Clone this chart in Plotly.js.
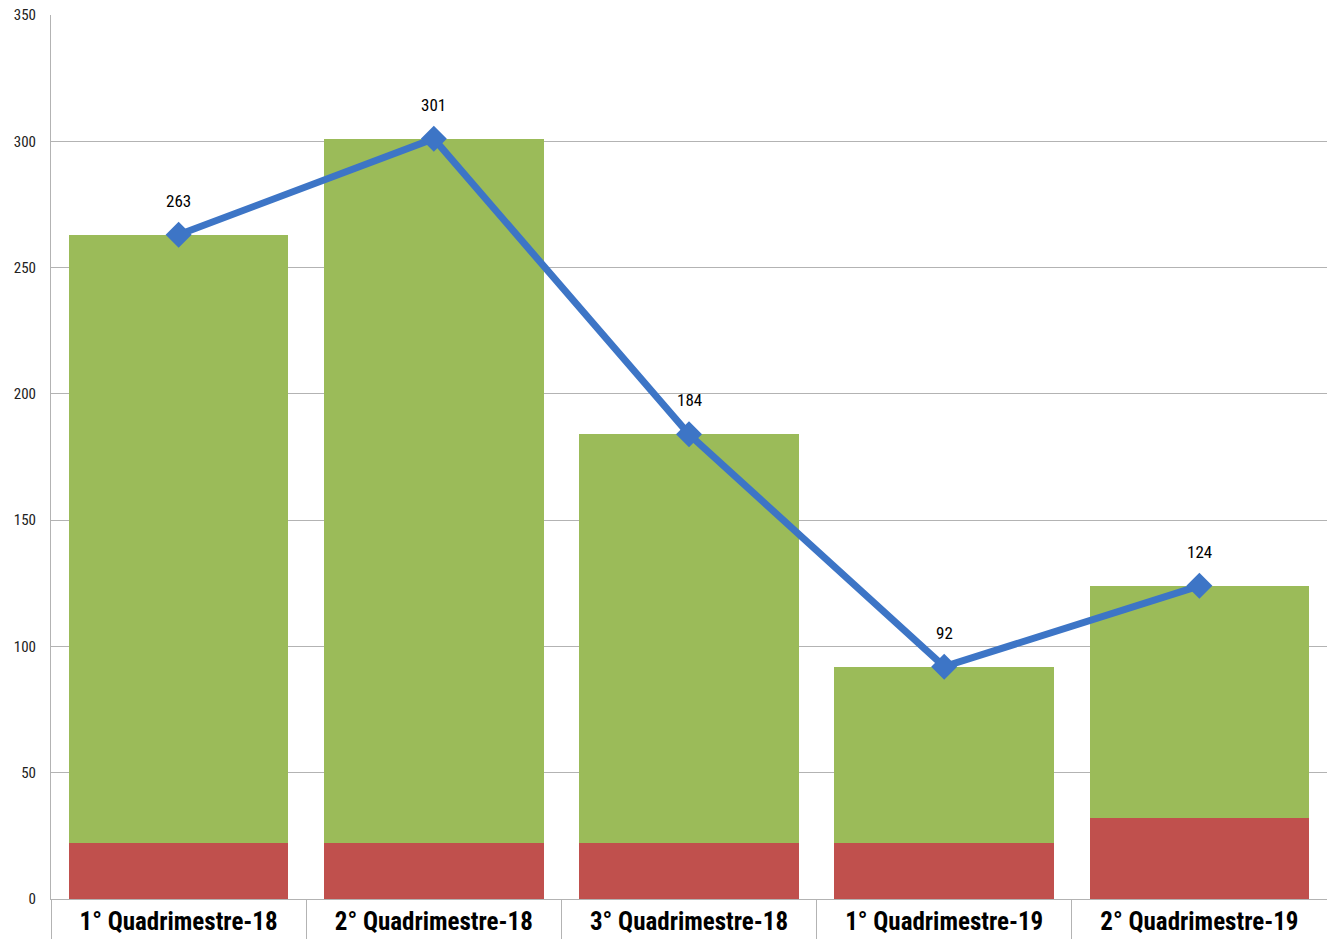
<!DOCTYPE html>
<html>
<head>
<meta charset="utf-8">
<script src="https://cdn.plot.ly/plotly-3.0.1.min.js"></script>
<style>html,body{margin:0;padding:0;background:#fff;}#chart{width:1327px;height:939px;}</style>
</head>
<body>
<div id="chart"></div>
<script>
const categories = ["1° Quadrimestre-18", "2° Quadrimestre-18", "3° Quadrimestre-18", "1° Quadrimestre-19", "2° Quadrimestre-19"];
const totals = [263, 301, 184, 92, 124];
const redValues = [22, 22, 22, 22, 32];
const greenValues = totals.map((t, i) => t - redValues[i]);
const yTicks = [0, 50, 100, 150, 200, 250, 300, 350];

const narrow = "Roboto Condensed, Carlito, sans-serif";

const traces = [
  {type: "bar", x: categories, y: redValues, marker: {color: "#C0504D"}, hoverinfo: "skip", showlegend: false},
  {type: "bar", x: categories, y: greenValues, marker: {color: "#9BBB59"}, hoverinfo: "skip", showlegend: false},
  {type: "scatter", mode: "lines+markers", x: categories, y: totals,
   line: {color: "#3D75C6", width: 7},
   marker: {symbol: "diamond", size: 20, color: "#3D75C6"},
   showlegend: false, hoverinfo: "skip", cliponaxis: false},
  {type: "scatter", mode: "markers", x: categories, y: totals, xaxis: "x2",
   marker: {opacity: 0}, showlegend: false, hoverinfo: "skip"}
];

const annotations = categories.map((c, i) => ({
  x: c, y: totals[i], text: String(totals[i]), showarrow: false,
  yshift: 34, font: {family: narrow, size: 17, color: "#000"}
}));

const layout = {
  width: 1327, height: 939,
  margin: {l: 51, r: 0, t: 15, b: 40},
  paper_bgcolor: "#fff", plot_bgcolor: "#fff",
  barmode: "stack", bargap: 0.14,
  showlegend: false,
  annotations: annotations,
  xaxis: {
    type: "category", tickangle: 0,
    ticks: "", showline: true, linecolor: "#b3b3b3", linewidth: 1,
    tickfont: {family: narrow, size: 25, color: "#000", weight: "bold"},
    showgrid: false, fixedrange: true
  },
  xaxis2: {
    type: "category", overlaying: "x", matches: "x", side: "bottom",
    tickson: "boundaries", ticks: "outside", ticklen: 40, tickcolor: "#b3b3b3", tickwidth: 1,
    showticklabels: false, showgrid: false, showline: false, fixedrange: true
  },
  yaxis: {
    range: [0, 350], tickvals: yTicks, ticktext: yTicks.map(String),
    showgrid: true, gridcolor: "#b3b3b3", gridwidth: 1,
    showline: true, linecolor: "#b3b3b3", linewidth: 1,
    ticks: "", ticklen: 0, ticklabelstandoff: 11,
    tickfont: {family: narrow, size: 15, color: "#222"},
    zeroline: false, fixedrange: true
  }
};

Plotly.newPlot("chart", traces, layout, {displayModeBar: false, staticPlot: true});
</script>
</body>
</html>
